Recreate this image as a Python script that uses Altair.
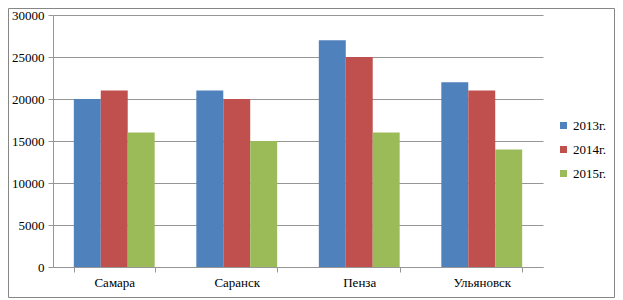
import altair as alt
import pandas as pd

cities = ["Самара", "Саранск", "Пенза", "Ульяновск"]
years = ["2013г.", "2014г.", "2015г."]
v2013 = [20000, 21000, 27000, 22000]
v2014 = [21000, 20000, 25000, 21000]
v2015 = [16000, 15000, 16000, 14000]
colors = ["#4F81BD", "#C0504D", "#9BBB59"]
y_ticks = [0, 5000, 10000, 15000, 20000, 25000, 30000]

rows = []
for yr, vals in zip(years, [v2013, v2014, v2015]):
    for c, v in zip(cities, vals):
        rows.append({"city": c, "year": yr, "value": v})
df = pd.DataFrame(rows)

W, H = 490, 252
PL, PT, PR, PB = 45, 7, 72, 31
FONT = "Liberation Serif"
GRAY = "#969696"

bars = alt.Chart(df).mark_bar().encode(
    x=alt.X("city:N", sort=cities, title=None,
            scale=alt.Scale(paddingInner=0.34, paddingOuter=0.17),
            axis=alt.Axis(labelAngle=0, tickBand="extent", domainColor=GRAY, tickColor=GRAY,
                          tickSize=5, labelPadding=4, grid=False,
                          labelFontSize=13, labelColor="black")),
    xOffset=alt.XOffset("year:N", sort=years, scale=alt.Scale(paddingInner=0, paddingOuter=0)),
    y=alt.Y("value:Q", title=None, scale=alt.Scale(domain=[0, 30000], nice=False),
            axis=alt.Axis(values=y_ticks, format="d", domainColor=GRAY, tickColor=GRAY, tickSize=5,
                          labelPadding=4, gridColor=GRAY, gridWidth=1,
                          labelFontSize=13, labelColor="black")),
    color=alt.Color("year:N", sort=years, scale=alt.Scale(domain=years, range=colors),
                    legend=alt.Legend(title=None, orient="none", legendX=504, legendY=104,
                                      symbolType="square", symbolSize=49, symbolStrokeWidth=0,
                                      labelFontSize=13, labelColor="black", labelLimit=300,
                                      labelOffset=3, rowPadding=10, padding=0)),
)

border = alt.Chart(pd.DataFrame({"a": [0]})).mark_rect(filled=False, color="#868686", strokeWidth=1).encode(
    x=alt.value(-PL + 0.5), x2=alt.value(W + PR - 0.5),
    y=alt.value(-PT + 0.5), y2=alt.value(H + PB - 0.5),
)

chart = alt.layer(bars, border).properties(
    width=W, height=H,
    padding={"left": PL, "top": PT, "right": PR, "bottom": PB},
    autosize=alt.AutoSizeParams(type="none"),
).configure(font=FONT).configure_view(stroke=None)

chart.save("out.html", embed_options={"renderer": "svg", "actions": False})
